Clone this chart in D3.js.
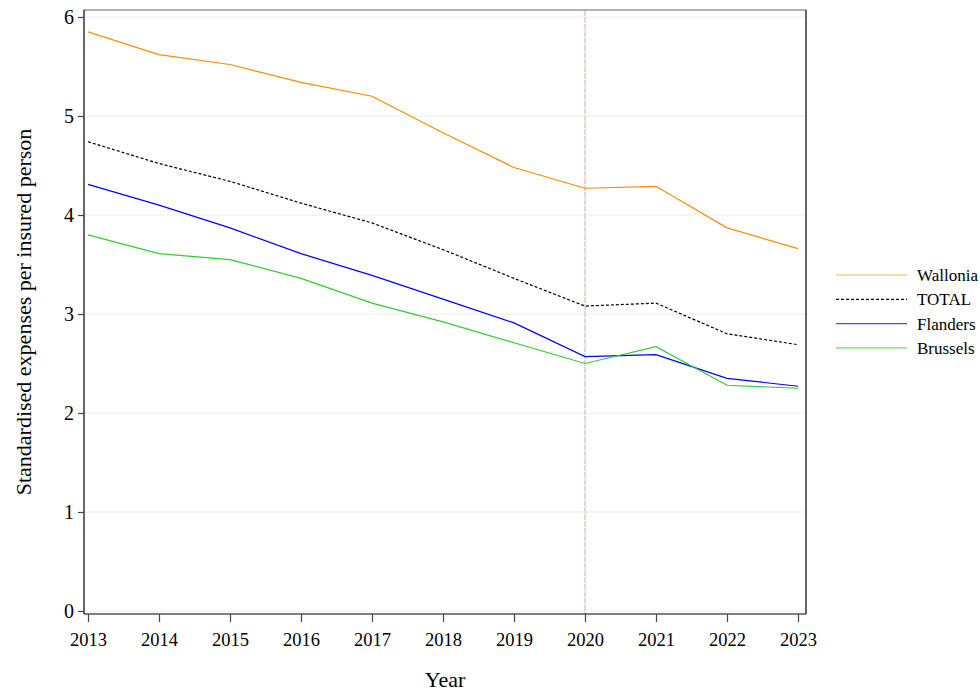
<!DOCTYPE html>
<html>
<head>
<meta charset="utf-8">
<script src="https://cdn.jsdelivr.net/npm/d3@7"></script>
<style>
  body { margin: 0; background: #fff; }
  text { font-family: "Liberation Serif", "DejaVu Serif", serif; fill: #000; }
</style>
</head>
<body>
<svg id="chart" width="980" height="691"></svg>
<script>
// data
const years = [2013, 2014, 2015, 2016, 2017, 2018, 2019, 2020, 2021, 2022, 2023];
const wallonia = [5.85, 5.62, 5.52, 5.34, 5.20, 4.83, 4.48, 4.27, 4.29, 3.87, 3.66];
const total    = [4.74, 4.52, 4.34, 4.12, 3.92, 3.65, 3.36, 3.08, 3.11, 2.80, 2.69];
const flanders = [4.31, 4.10, 3.87, 3.61, 3.39, 3.15, 2.91, 2.57, 2.59, 2.35, 2.27];
const brussels = [3.80, 3.61, 3.55, 3.36, 3.11, 2.92, 2.71, 2.50, 2.67, 2.28, 2.25];
const yTicks = [0, 1, 2, 3, 4, 5, 6];
const markYear = 2020;

const series = [
    { name: "Wallonia", values: wallonia, color: "#ff8c00", dash: null },
    { name: "TOTAL", values: total, color: "#000000", dash: "3,2" },
    { name: "Flanders", values: flanders, color: "#0000ff", dash: null },
    { name: "Brussels", values: brussels, color: "#33cc33", dash: null }
];

const svg = d3.select("#chart");

// plot region box
const box = { left: 84, right: 806, top: 10, bottom: 614 };

const x = d3.scaleLinear()
    .domain([2013, 2023])
    .range([88, 798]);

const y = d3.scaleLinear()
    .domain([0, 6])
    .range([611, 17]);

// gridlines
svg.append("g")
    .selectAll("line")
    .data(yTicks)
    .join("line")
    .attr("x1", box.left)
    .attr("x2", box.right)
    .attr("y1", d => y(d))
    .attr("y2", d => y(d))
    .attr("stroke", "#ececec")
    .attr("stroke-width", 1);

// reference line at 2020
svg.append("line")
    .attr("x1", x(markYear))
    .attr("x2", x(markYear))
    .attr("y1", box.top)
    .attr("y2", box.bottom)
    .attr("stroke", "#e2b8b8")
    .attr("stroke-width", 1.2)
    .attr("stroke-dasharray", "6,1");

// plot region border
svg.append("line")
    .attr("x1", box.left).attr("x2", box.right)
    .attr("y1", box.top).attr("y2", box.top)
    .attr("stroke", "#666").attr("stroke-width", 1);
svg.append("line")
    .attr("x1", box.right).attr("x2", box.right)
    .attr("y1", box.top).attr("y2", box.bottom)
    .attr("stroke", "#000").attr("stroke-width", 1.2);

// lines
const line = d3.line()
    .x((d, i) => x(years[i]))
    .y(d => y(d));

svg.append("g")
    .selectAll("path")
    .data(series)
    .join("path")
    .attr("fill", "none")
    .attr("stroke", d => d.color)
    .attr("stroke-width", 1.2)
    .attr("stroke-dasharray", d => d.dash)
    .attr("d", d => line(d.values));

// y axis
const yAxis = svg.append("g")
    .attr("transform", `translate(${box.left},0)`)
    .call(d3.axisLeft(y).tickValues(yTicks).tickFormat(d3.format("d")).tickSize(6).tickPadding(4).tickSizeOuter(0));
yAxis.select(".domain").attr("d", `M0,${box.top}V${box.bottom}`).attr("stroke", "#000").attr("stroke-width", 1.2);
yAxis.selectAll(".tick line").attr("stroke", "#444").attr("stroke-width", 1.2);
yAxis.selectAll(".tick text")
    .attr("font-size", "20px")
    .attr("font-family", "Liberation Serif, serif");

// x axis
const xAxis = svg.append("g")
    .attr("transform", `translate(0,${box.bottom})`)
    .call(d3.axisBottom(x).tickValues(years).tickFormat(d3.format("d")).tickSize(8).tickPadding(11).tickSizeOuter(0));
xAxis.select(".domain").attr("d", `M${box.left},0H${box.right}`).attr("stroke", "#000").attr("stroke-width", 1.2);
xAxis.selectAll(".tick line").attr("stroke", "#444").attr("stroke-width", 1.2);
xAxis.selectAll(".tick text")
    .attr("font-size", "18.5px")
    .attr("font-family", "Liberation Serif, serif");

// axis titles
svg.append("text")
    .attr("x", (box.left + box.right) / 2 + 0)
    .attr("y", 687)
    .attr("text-anchor", "middle")
    .attr("font-size", "22px")
    .text("Year");

svg.append("text")
    .attr("transform", `translate(31,${(box.top + box.bottom) / 2}) rotate(-90)`)
    .attr("text-anchor", "middle")
    .attr("font-size", "22px")
    .text("Standardised expenses per insured person");

// legend
const legend = svg.append("g")
    .selectAll("g")
    .data(series)
    .join("g")
    .attr("transform", (d, i) => `translate(836,${275 + i * 24.3})`);

legend.append("line")
    .attr("x1", 0).attr("x2", 71)
    .attr("stroke", d => d.color)
    .attr("stroke-opacity", d => d.dash ? 1 : 0.7)
    .attr("stroke-width", 1.2)
    .attr("stroke-dasharray", d => d.dash);

legend.append("text")
    .attr("x", 81)
    .attr("dy", "0.35em")
    .attr("font-size", "17px")
    .text(d => d.name);
</script>
</body>
</html>
